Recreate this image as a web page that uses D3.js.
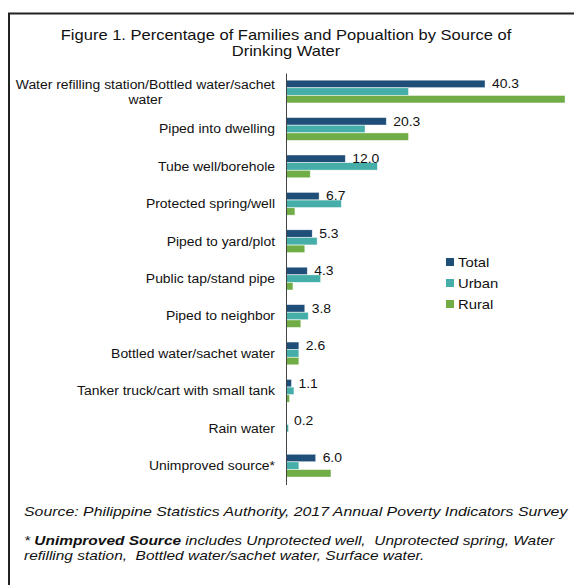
<!DOCTYPE html>
<html>
<head>
<meta charset="utf-8">
<script src="https://cdn.jsdelivr.net/npm/d3@7"></script>
<style>
  body { margin: 0; background: #fff; }
  svg { display: block; font-family: "Liberation Sans", Arial, sans-serif; }
  text { white-space: pre; }
</style>
</head>
<body>
<svg id="chart" width="574" height="585"></svg>
<script>
const categories = [
    "Water refilling station/Bottled water/sachet water",
    "Piped into dwelling",
    "Tube well/borehole",
    "Protected spring/well",
    "Piped to yard/plot",
    "Public tap/stand pipe",
    "Piped to neighbor",
    "Bottled water/sachet water",
    "Tanker truck/cart with small tank",
    "Rain water",
    "Unimproved source*"
];
const seriesNames = ["Total", "Urban", "Rural"];
const totalValues = [40.3, 20.3, 12.0, 6.7, 5.3, 4.3, 3.8, 2.6, 1.1, 0.2, 6.0];
const urbanValues = [24.8, 16.0, 18.5, 11.2, 6.3, 7.0, 4.5, 2.6, 1.6, 0.5, 2.6];
const ruralValues = [56.5, 24.8, 4.9, 1.8, 3.8, 1.4, 3.0, 2.6, 0.7, 0.0, 9.1];
const colors = ["#1f4e79", "#45aea9", "#70ad47"];

// the original text is a bit wider than Liberation Sans, so stretch it
const stretch = 1.16;

const svg = d3.select("#chart");

// Helper - a text element placed at (x, y) and stretched horizontally
function wideText(parent, x, y, k = stretch) {
    return parent.append("g")
        .attr("transform", `translate(${x},${y}) scale(${k},1)`)
        .append("text")
        .attr("fill", "#111");
}

// frame
svg.append("path")
    .attr("d", "M9,600 V13.5 H600")
    .attr("fill", "none")
    .attr("stroke", "#222")
    .attr("stroke-width", 2);

// title
wideText(svg, 286, 40, 1.18)
    .attr("text-anchor", "middle")
    .style("font-size", "14px")
    .text("Figure 1. Percentage of Families and Popualtion by Source of");
wideText(svg, 286, 56, 1.18)
    .attr("text-anchor", "middle")
    .style("font-size", "14px")
    .text("Drinking Water");

const x = d3.scaleLinear().domain([0, 40.3]).range([286, 485]);
const y = d3.scaleBand().domain(categories).range([73, 484.5]);
const inner = d3.scaleBand().domain(seriesNames).range([0, 23]);

const series = [totalValues, urbanValues, ruralValues];

const groups = svg.append("g").selectAll("g")
    .data(categories)
    .join("g")
    .attr("transform", c => `translate(0,${y(c) + (y.bandwidth() - 23) / 2})`);

groups.selectAll("rect")
    .data((c, i) => seriesNames.map((s, j) => ({ s, v: series[j][i] })))
    .join("rect")
    .attr("x", x(0))
    .attr("y", d => inner(d.s))
    .attr("height", inner.bandwidth() - 0.3)
    .attr("width", d => x(d.v) - x(0))
    .attr("fill", d => colors[seriesNames.indexOf(d.s)])
    .attr("stroke", d => d.v > 0 ? "rgba(255,255,255,0.6)" : "none")
    .attr("stroke-width", 0.6);

// value labels next to Total bar
groups.each(function (c, i) {
    wideText(d3.select(this), x(totalValues[i]) + 7, inner("Total") + inner.bandwidth() / 2)
        .attr("dy", "0.35em")
        .style("font-size", "12px")
        .text(totalValues[i].toFixed(1));
});

// axis
const axis = svg.append("g")
    .attr("transform", `translate(${x(0)},0)`)
    .call(d3.axisLeft(y).tickSize(0).tickFormat(""));
axis.select(".domain").attr("stroke", "#444").attr("stroke-width", 1);

// category labels
const labelLayer = svg.append("g");
categories.forEach(c => {
    const cy = y(c) + y.bandwidth() / 2;
    if (c.startsWith("Water refilling")) {
        const first = wideText(labelLayer, 275, cy - 3)
            .attr("text-anchor", "end")
            .style("font-size", "12px")
            .text("Water refilling station/Bottled water/sachet");
        const w = first.node().getComputedTextLength() * stretch;
        wideText(labelLayer, 275 - w / 2, cy + 12)
            .attr("text-anchor", "middle")
            .style("font-size", "12px")
            .text("water");
    } else {
        wideText(labelLayer, 275, cy)
            .attr("text-anchor", "end")
            .attr("dy", "0.35em")
            .style("font-size", "12px")
            .text(c);
    }
});

// legend
const legend = svg.append("g").attr("transform", "translate(446,258)");
seriesNames.forEach((s, i) => {
    const g = legend.append("g").attr("transform", `translate(0,${i * 21})`);
    g.append("rect").attr("width", 8).attr("height", 8).attr("fill", colors[i]);
    wideText(g, 12, 4, 1.14).attr("dy", "0.35em")
        .style("font-size", "13px").text(s);
});

// notes
const notes = svg.append("g").style("font-size", "13px").style("font-style", "italic");
wideText(notes, 24, 516, 1.22)
    .text("Source: Philippine Statistics Authority, 2017 Annual Poverty Indicators Survey");
const fn = wideText(notes, 24, 545, 1.19);
fn.append("tspan").text("* ");
fn.append("tspan").style("font-weight", "bold").text("Unimproved Source");
fn.append("tspan").text(" includes Unprotected well,  Unprotected spring, Water");
wideText(notes, 24, 560, 1.19)
    .text("refilling station,  Bottled water/sachet water, Surface water.");
</script>
</body>
</html>
